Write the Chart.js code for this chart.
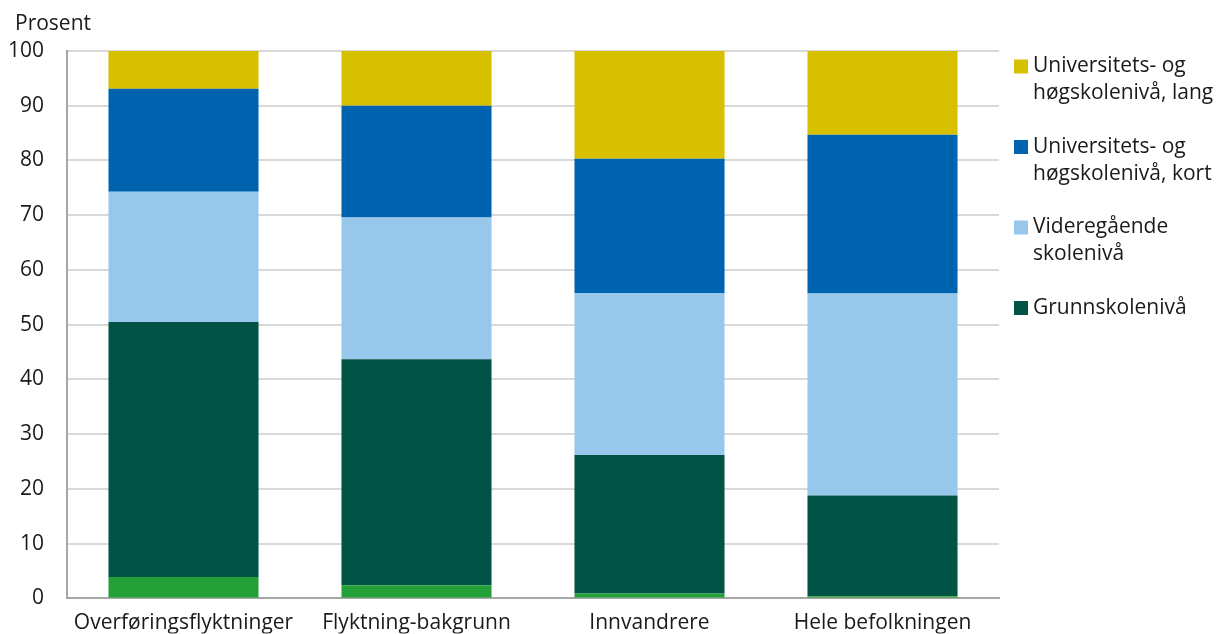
<!DOCTYPE html>
<html>
<head>
<meta charset="utf-8">
<script src="https://cdn.jsdelivr.net/npm/chart.js@4/dist/chart.umd.min.js"></script>
<style>
  html, body { margin: 0; padding: 0; background: #fff; }
  #wrap { width: 1218px; height: 634px; position: relative; }
</style>
</head>
<body>
<div id="wrap"><canvas id="c" width="1218" height="634"></canvas></div>
<script>
const categories = ['Overføringsflyktninger', 'Flyktning-bakgrunn', 'Innvandrere', 'Hele befolkningen'];
const yTicks = [0, 10, 20, 30, 40, 50, 60, 70, 80, 90, 100];
const yTitle = 'Prosent';

const ingenUtdanning = [3.9, 2.4, 0.9, 0.4];
const grunnskole = [46.6, 41.3, 25.3, 18.4];
const videregaende = [23.8, 25.9, 29.6, 36.9];
const uniKort = [18.8, 20.4, 24.5, 29.0];
const uniLang = [6.9, 10.0, 19.7, 15.3];

const seriesNames = ['Ingen utdanning', 'Grunnskolenivå', 'Videregående\nskolenivå', 'Universitets- og\nhøgskolenivå, kort', 'Universitets- og\nhøgskolenivå, lang'];
const seriesColors = ['#23a038', '#005345', '#97c7eb', '#0063af', '#d7c000'];
const inLegend = [false, true, true, true, true];

const FONT = "'Open Sans', 'Noto Sans', sans-serif";
const TEXT = '#1a1a1a';
const FS = 21;

const seriesValues = [ingenUtdanning, grunnskole, videregaende, uniKort, uniLang];
const datasets = seriesValues.map((vals, i) => ({
  label: seriesNames[i],
  data: vals,
  backgroundColor: seriesColors[i],
  borderWidth: 0,
  categoryPercentage: 1.0,
  barPercentage: 0.644
}));

const extraText = {
  id: 'extraText',
  afterDraw(chart) {
    const ctx = chart.ctx;
    const area = chart.chartArea;
    ctx.save();
    ctx.font = FS + 'px ' + FONT;
    ctx.fillStyle = TEXT;
    ctx.textBaseline = 'middle';
    ctx.textAlign = 'left';
    ctx.fillText(yTitle, 15, area.top - 27);

    // legend
    const x0 = area.right + 15;
    let y = area.top + 8;
    const lineH = 27;
    const step = 80.5;
    for (let i = datasets.length - 1; i >= 0; i--) {
      if (!inLegend[i]) continue;
      const lines = datasets[i].label.split('\n');
      ctx.fillStyle = seriesColors[i];
      ctx.fillRect(x0, y + 0.5, 14, 14);
      ctx.fillStyle = TEXT;
      lines.forEach((ln, k) => {
        ctx.fillText(ln, x0 + 19, y + 7.5 + k * lineH);
      });
      y += step;
    }
    ctx.restore();
  }
};

new Chart(document.getElementById('c'), {
  type: 'bar',
  data: { labels: categories, datasets },
  options: {
    responsive: false,
    animation: false,
    layout: { padding: { top: 51, right: 219, left: 0, bottom: 0 } },
    plugins: {
      legend: { display: false },
      tooltip: { enabled: false },
      title: { display: false }
    },
    scales: {
      x: {
        stacked: true,
        grid: { display: false, drawTicks: false },
        border: { color: '#a6a6a6', width: 2 },
        ticks: { font: { family: FONT, size: FS }, color: TEXT, padding: 12, maxRotation: 0, autoSkip: false },
        afterFit(scale) { scale.height = 35; }
      },
      y: {
        stacked: true,
        min: 0, max: 100,
        afterBuildTicks(scale) { scale.ticks = yTicks.map(v => ({ value: v })); },
        grid: { color: '#d9d9d9', lineWidth: 2, drawTicks: false },
        border: { color: '#a6a6a6', width: 2 },
        ticks: { font: { family: FONT, size: FS }, color: TEXT, padding: 23 },
        afterFit(scale) { scale.width = 67; }
      }
    }
  },
  plugins: [extraText]
});
</script>
</body>
</html>
